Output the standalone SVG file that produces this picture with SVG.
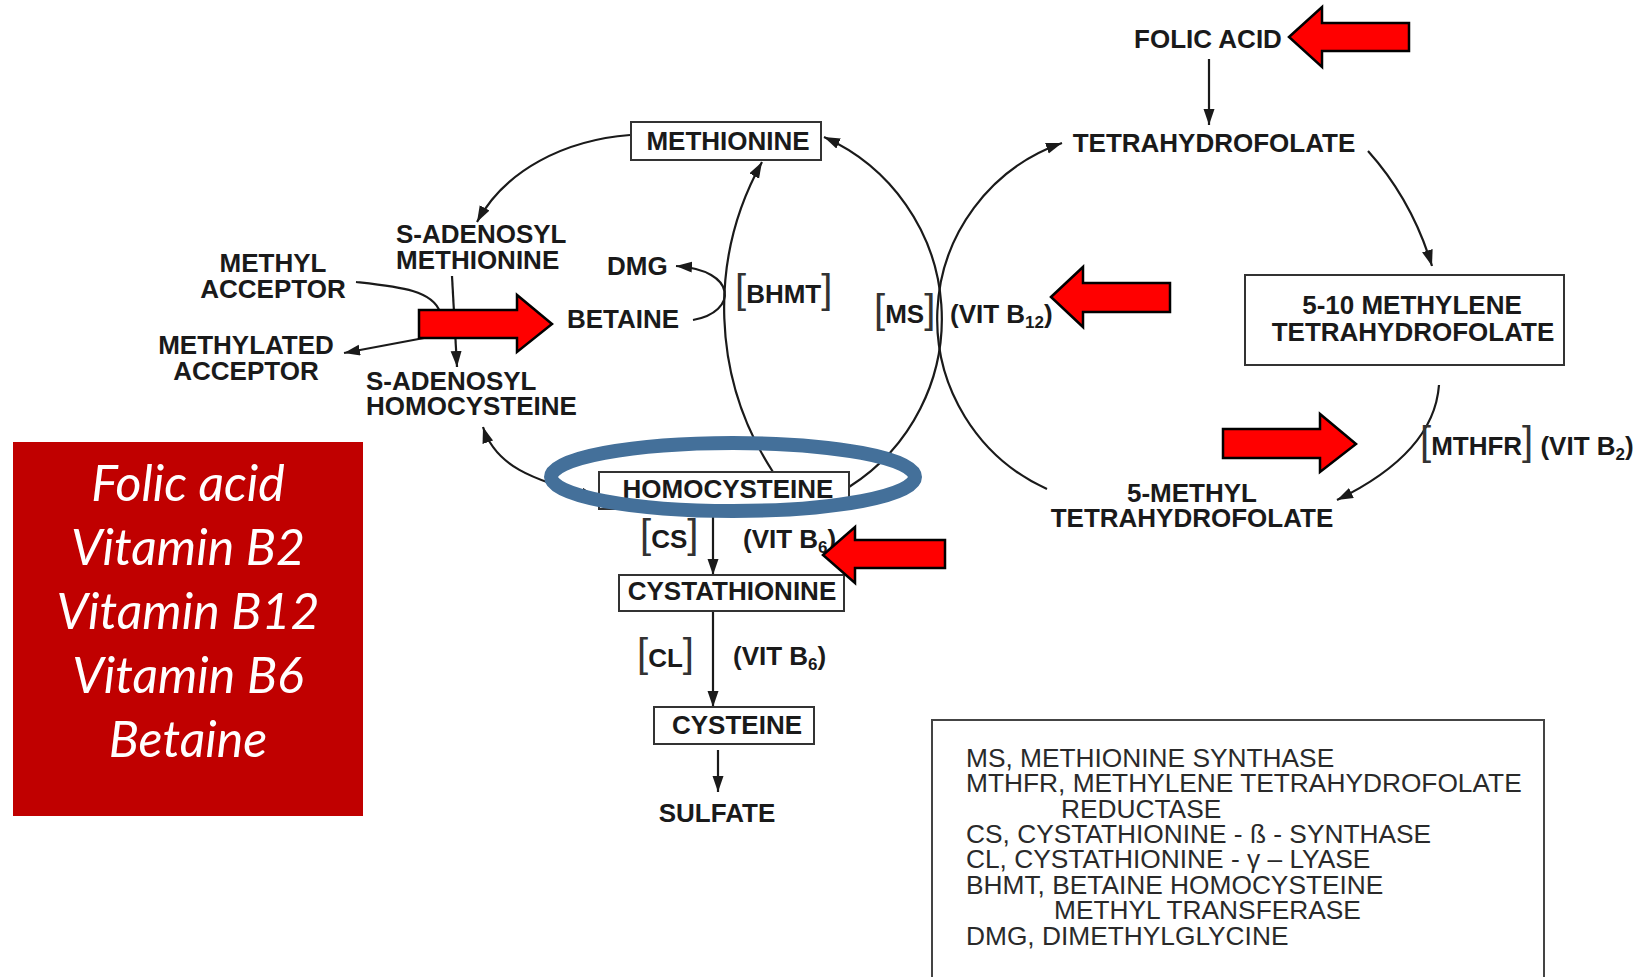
<svg xmlns="http://www.w3.org/2000/svg" width="1640" height="977" viewBox="0 0 1640 977">
<style>
.lbl{font-family:"Liberation Sans",Arial,sans-serif;font-weight:bold;font-size:26px;fill:#1a1a1a}
.leg{font-family:"Liberation Sans",Arial,sans-serif;font-size:26.3px;fill:#2a2a2a}
.br{font-weight:normal;font-size:40px;fill:#333}
.sub{font-size:17px}
.box{fill:#fff;stroke:#333;stroke-width:2}
.con{fill:none;stroke:#1a1a1a;stroke-width:2.2}
.red{fill:#ff0000;stroke:#000;stroke-width:2.5;stroke-linejoin:miter}
.side{font-family:Lato,"Open Sans",sans-serif;font-style:italic;font-size:50px;fill:#fff}
</style>
<defs>
<marker id="ah" markerUnits="userSpaceOnUse" markerWidth="17" markerHeight="12" refX="16" refY="5.5" orient="auto-start-reverse">
<path d="M0,0 L16,5.5 L0,11 z" fill="#1a1a1a"/>
</marker>
</defs>
<rect width="1640" height="977" fill="#fff"/>

<g id="connectors">
<path class="con" d="M630 135 C565 140 505 170 477 222" marker-end="url(#ah)"/>
<path class="con" d="M452 276 L457 367" marker-end="url(#ah)"/>
<path class="con" d="M356 282 C400 287 432 290 440 312"/>
<path class="con" d="M440 335 L344 353" marker-end="url(#ah)"/>
<path class="con" d="M483 427 C495 465 530 480 597 497" marker-start="url(#ah)" marker-end="url(#ah)"/>
<path class="con" d="M773 472 A300 300 0 0 1 762 162" marker-end="url(#ah)"/>
<path class="con" d="M693 320 C738 312 738 270 676 266" marker-end="url(#ah)"/>
<path class="con" d="M849 487 A199 199 0 0 0 824 137" marker-end="url(#ah)"/>
<path class="con" d="M1047 489 A186.5 186.5 0 0 1 1062 143" marker-end="url(#ah)"/>
<path class="con" d="M1209 59 L1209 125" marker-end="url(#ah)"/>
<path class="con" d="M1368 151 Q1412 200 1432 266" marker-end="url(#ah)"/>
<path class="con" d="M1439 385 Q1434 453 1337 500" marker-end="url(#ah)"/>
<path class="con" d="M713 510 L713 575" marker-end="url(#ah)"/>
<path class="con" d="M713 611 L713 707" marker-end="url(#ah)"/>
<path class="con" d="M718 750 L718 792" marker-end="url(#ah)"/>
</g>

<g id="methionine"><rect class="box" x="631" y="122" width="190" height="38"/><text class="lbl" x="728" y="150" text-anchor="middle">METHIONINE</text></g>
<g id="homocysteine"><rect class="box" x="599" y="472" width="250" height="37"/><text class="lbl" x="728" y="498" text-anchor="middle">HOMOCYSTEINE</text></g>
<g id="cystathionine"><rect class="box" x="619" y="575" width="225" height="36"/><text class="lbl" x="732" y="600" text-anchor="middle">CYSTATHIONINE</text></g>
<g id="cysteine"><rect class="box" x="654" y="707" width="160" height="37"/><text class="lbl" x="737" y="734" text-anchor="middle">CYSTEINE</text></g>
<g id="methylene-thf"><rect class="box" x="1245" y="275" width="319" height="90"/><text class="lbl" x="1412" y="314" text-anchor="middle">5-10 METHYLENE</text><text class="lbl" x="1413" y="341" text-anchor="middle">TETRAHYDROFOLATE</text></g>

<g id="folic-acid"><text class="lbl" x="1208" y="48" text-anchor="middle">FOLIC ACID</text></g>
<g id="thf"><text class="lbl" x="1214" y="152" text-anchor="middle">TETRAHYDROFOLATE</text></g>
<g id="methyl-thf"><text class="lbl" x="1192" y="502" text-anchor="middle">5-METHYL</text><text class="lbl" x="1192" y="527" text-anchor="middle">TETRAHYDROFOLATE</text></g>
<g id="sam"><text class="lbl" x="396" y="243">S-ADENOSYL</text><text class="lbl" x="396" y="269">METHIONINE</text></g>
<g id="methyl-acceptor"><text class="lbl" x="273" y="272" text-anchor="middle">METHYL</text><text class="lbl" x="273" y="298" text-anchor="middle">ACCEPTOR</text></g>
<g id="methylated-acceptor"><text class="lbl" x="246" y="354" text-anchor="middle">METHYLATED</text><text class="lbl" x="246" y="380" text-anchor="middle">ACCEPTOR</text></g>
<g id="sah"><text class="lbl" x="366" y="390">S-ADENOSYL</text><text class="lbl" x="366" y="415">HOMOCYSTEINE</text></g>
<g id="dmg"><text class="lbl" x="607" y="275">DMG</text></g>
<g id="betaine"><text class="lbl" x="567" y="328">BETAINE</text></g>
<g id="sulfate"><text class="lbl" x="717" y="822" text-anchor="middle">SULFATE</text></g>

<g id="enzyme-labels">
<text class="lbl" x="735" y="303"><tspan class="br">[</tspan>BHMT<tspan class="br">]</tspan></text>
<text class="lbl" x="874" y="323"><tspan class="br">[</tspan>MS<tspan class="br">]</tspan></text>
<text class="lbl" x="950" y="323">(VIT B<tspan class="sub" dy="5">12</tspan><tspan dy="-5">)</tspan></text>
<text class="lbl" x="640" y="548"><tspan class="br">[</tspan>CS<tspan class="br">]</tspan></text>
<text class="lbl" x="743" y="548">(VIT B<tspan class="sub" dy="5">6</tspan><tspan dy="-5">)</tspan></text>
<text class="lbl" x="637" y="667"><tspan class="br">[</tspan>CL<tspan class="br">]</tspan></text>
<text class="lbl" x="733" y="665">(VIT B<tspan class="sub" dy="5">6</tspan><tspan dy="-5">)</tspan></text>
<text class="lbl" x="1420" y="455"><tspan class="br">[</tspan>MTHFR<tspan class="br">]</tspan> (VIT B<tspan class="sub" dy="5">2</tspan><tspan dy="-5">)</tspan></text>
</g>

<g id="highlight-ellipse"><ellipse cx="733" cy="477" rx="182" ry="34" fill="none" stroke="#44709a" stroke-width="14"/></g>

<g id="red-arrows">
<polygon class="red" points="1289,37 1322,7 1322,23 1409,23 1409,51 1322,51 1322,67"/>
<polygon class="red" points="1051,297 1083,267 1083,283 1170,283 1170,312 1083,312 1083,327"/>
<polygon class="red" points="419,310 517,310 517,295 552,324 517,352 517,338 419,338"/>
<polygon class="red" points="1223,429 1320,429 1320,414 1356,444 1320,472 1320,458 1223,458"/>
<polygon class="red" points="823,555 855,527 855,540 945,540 945,568 855,568 855,583"/>
</g>

<g id="vitamin-box">
<rect x="13" y="442" width="350" height="374" fill="#c00000"/>
<text class="side" x="188" y="501" text-anchor="middle">Folic acid</text>
<text class="side" x="188" y="565" text-anchor="middle">Vitamin B2</text>
<text class="side" x="188" y="629" text-anchor="middle">Vitamin B12</text>
<text class="side" x="188" y="693" text-anchor="middle">Vitamin B6</text>
<text class="side" x="188" y="757" text-anchor="middle">Betaine</text>
</g>

<g id="legend">
<rect x="932" y="720" width="612" height="280" fill="#fff" stroke="#444" stroke-width="2"/>
<text class="leg" x="966" y="767">MS, METHIONINE SYNTHASE</text>
<text class="leg" x="966" y="792">MTHFR, METHYLENE TETRAHYDROFOLATE</text>
<text class="leg" x="1061" y="818">REDUCTASE</text>
<text class="leg" x="966" y="843">CS, CYSTATHIONINE - ß - SYNTHASE</text>
<text class="leg" x="966" y="868">CL, CYSTATHIONINE - γ – LYASE</text>
<text class="leg" x="966" y="894">BHMT, BETAINE HOMOCYSTEINE</text>
<text class="leg" x="1054" y="919">METHYL TRANSFERASE</text>
<text class="leg" x="966" y="945">DMG, DIMETHYLGLYCINE</text>
</g>
</svg>
